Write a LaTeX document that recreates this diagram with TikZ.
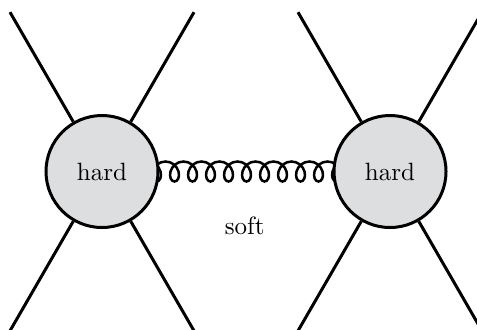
\documentclass[tikz,border=0pt]{standalone}
\usetikzlibrary{decorations.pathmorphing,backgrounds}
\definecolor{blobfill}{RGB}{221,222,224}
\begin{document}
\begin{tikzpicture}[x=0.4pt,y=-0.4pt,
  blob/.style={circle,draw=black,line width=1.2pt,fill=blobfill,minimum size=44.8pt,inner sep=0pt},
  leg/.style={line width=1.2pt},
  gluon/.style={line width=1pt,decorate,decoration={coil,amplitude=4pt,segment length=7.2pt,aspect=0.85}}]
\useasboundingbox (0,0) rectangle (477,329);
\clip (0,0) rectangle (477,329);
\node[blob] (L) at (102,171.5) {hard};
\node[blob] (R) at (390,171.5) {hard};
\node[anchor=base] (S) at (244.7,234.3) {soft};
\coordinate (la) at (10,12.2);
\coordinate (lb) at (194,12.2);
\coordinate (lc) at (10,330.8);
\coordinate (ld) at (194,330.8);
\coordinate (ra) at (298,12.2);
\coordinate (rb) at (482,12.2);
\coordinate (rc) at (298,330.8);
\coordinate (rd) at (482,330.8);
\foreach \e in {la,lb,lc,ld} \draw[leg] (L) -- (\e);
\foreach \e in {ra,rb,rc,rd} \draw[leg] (R) -- (\e);
\begin{pgfonlayer}{background}
\draw[gluon] ([xshift=-1.4pt]L.center) -- (R.center);
\end{pgfonlayer}
\end{tikzpicture}
\end{document}
